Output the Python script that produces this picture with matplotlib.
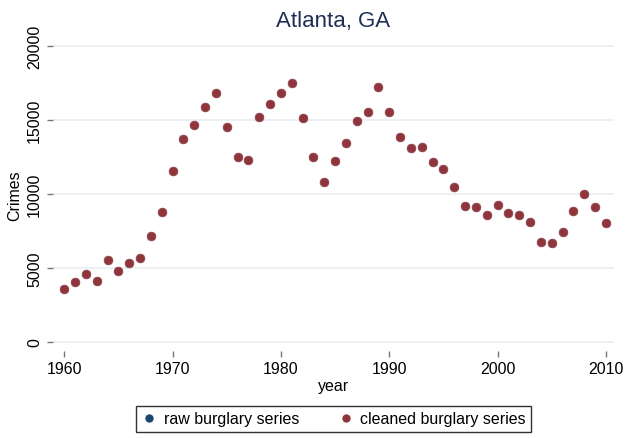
import matplotlib
matplotlib.use('Agg')
import matplotlib.pyplot as plt
from matplotlib.lines import Line2D

plt.rcParams['font.family'] = ['Liberation Sans', 'DejaVu Sans']

# dados
anos = list(range(1960, 2011))
limpa = [3560, 4050, 4570, 4100, 5520, 4820, 5320, 5650, 7180, 8760,
         11530, 13740, 14690, 15900, 16820, 14500, 12480, 12320, 15180, 16100,
         16820, 17500, 15140, 12520, 10830, 12210, 13470, 14930, 15560, 17210,
         15540, 13870, 13090, 13180, 12160, 11710, 10500, 9190, 9120, 8580,
         9280, 8740, 8580, 8090, 6740, 6670, 7410, 8870, 10000, 9140,
         8040]
bruta = list(limpa)  # série bruta fica escondida atrás da limpa

azul = '#1a476f'
vermelho = '#90353b'

fig = plt.figure(figsize=(6.25, 4.39), dpi=100)
ax = fig.add_axes([53/625, 1-352/439, (614-53)/625, (352-40)/439])

ax.plot(anos, bruta, 'o', color=azul, markersize=6.5, markeredgewidth=0)
ax.plot(anos, limpa, 'o', color=vermelho, markersize=6.5,
        markeredgecolor='#b07078', markeredgewidth=0.4)

ax.set_xlim(1958.96, 2010.74)
ax.set_ylim(-608, 20470)
ax.set_xticks([1960, 1970, 1980, 1990, 2000, 2010])
ax.set_yticks([0, 5000, 10000, 15000, 20000])
ax.grid(axis='y', color='#eaf0f3', linewidth=1.5)
ax.set_axisbelow(True)
for s in ax.spines.values():
    s.set_visible(False)

ax.tick_params(axis='both', color='#777777', length=4, width=1, labelsize=11.5, pad=3)
ax.tick_params(axis='y', labelrotation=90, pad=4)
for t in ax.get_yticklabels():
    t.set_va('center')

ax.set_ylabel('Crimes', fontsize=11.5, labelpad=3)
ax.set_xlabel('year', fontsize=11.5, labelpad=2)
ax.set_title('Atlanta, GA', fontsize=16, color='#1e2e55', pad=9)

handles = [Line2D([], [], marker='o', linestyle='', color=azul, markersize=5),
           Line2D([], [], marker='o', linestyle='', color=vermelho, markersize=5)]
leg = fig.legend(handles, ['raw burglary series', 'cleaned burglary series'],
                 loc='center', bbox_to_anchor=(333.5/625, 1-420/439), ncol=2,
                 fontsize=11.5, frameon=True, fancybox=False, edgecolor='black',
                 handletextpad=0.4, columnspacing=2.4, handlelength=1,
                 borderpad=0.35)
leg.get_frame().set_linewidth(1)

plt.savefig('out.png', dpi=100)
